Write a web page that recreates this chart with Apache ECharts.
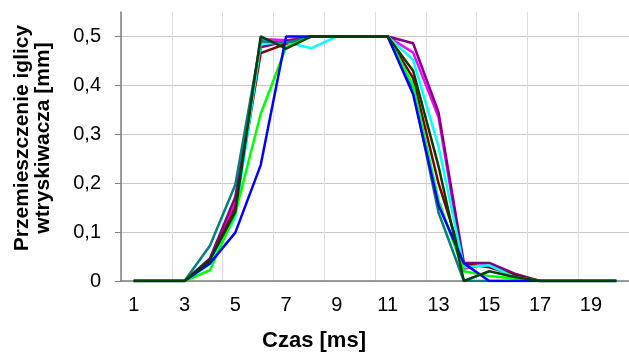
<!DOCTYPE html>
<html>
<head>
<meta charset="utf-8">
<script src="https://cdn.jsdelivr.net/npm/echarts@6/dist/echarts.min.js"></script>
<style>
html, body { margin: 0; padding: 0; background: #fff; }
#chart-container { width: 629px; height: 352px; }
</style>
</head>
<body>
<div id="chart-container"></div>
<script>
var categories = ['1','2','3','4','5','6','7','8','9','10','11','12','13','14','15','16','17','18','19','20'];
var yTicks = [0, 0.1, 0.2, 0.3, 0.4, 0.5];

var seriesMagenta = [0,0,0,0.040,0.160,0.495,0.492,0.5,0.5,0.5,0.5,0.467,0.335,0.025,0.035,0.010,0,0,0,0];
var seriesPurple = [0,0,0,0.046,0.172,0.478,0.490,0.5,0.5,0.5,0.5,0.486,0.345,0.037,0.037,0.015,0,0,0,0];
var seriesDarkRed = [0,0,0,0.040,0.150,0.466,0.485,0.5,0.5,0.5,0.5,0.415,0.200,0.035,0.028,0.012,0,0,0,0];
var seriesCyan = [0,0,0,0.035,0.131,0.485,0.488,0.476,0.5,0.5,0.5,0.452,0.275,0.028,0.032,0.008,0,0,0,0];
var seriesTeal = [0,0,0,0.072,0.197,0.490,0.487,0.5,0.5,0.5,0.5,0.390,0.140,0,0,0,0,0,0,0];
var seriesGreen = [0,0,0,0.022,0.138,0.342,0.478,0.5,0.5,0.5,0.5,0.400,0.165,0.020,0.010,0.005,0,0,0,0];
var seriesBlue = [0,0,0,0.036,0.099,0.237,0.5,0.5,0.5,0.5,0.5,0.382,0.155,0.036,0,0,0,0,0,0];
var seriesDarkGreen = [0,0,0,0.043,0.141,0.5,0.475,0.5,0.5,0.5,0.5,0.430,0.235,0,0.020,0.008,0,0,0,0];

var font = 'Liberation Sans, Arial, sans-serif';

function line(name, data, color) {
	return {
		name: name,
		type: 'line',
		data: data,
		symbol: 'none',
		lineStyle: { color: color, width: 2.5 },
		itemStyle: { color: color }
	};
}

var myChart = echarts.init(document.getElementById('chart-container'));

var option = {
	animation: false,
	backgroundColor: '#fff',
	grid: { left: 121, top: 12, width: 511, height: 269 },
	xAxis: {
		type: 'category',
		data: categories,
		boundaryGap: true,
		axisLine: { lineStyle: { color: '#7f7f7f', width: 1.5 } },
		axisTick: { interval: 1, length: 7, lineStyle: { color: '#7f7f7f' } },
		axisLabel: { interval: 1, margin: 14, color: '#000', fontSize: 20, fontFamily: font },
		splitLine: { show: true, interval: 1, lineStyle: { color: '#dcdcdc', width: 1 } }
	},
	yAxis: {
		type: 'value',
		min: 0,
		max: 0.55,
		interval: 0.1,
		axisLine: { show: true, lineStyle: { color: '#7f7f7f', width: 1.5 } },
		axisTick: { show: true, length: 6, customValues: yTicks, lineStyle: { color: '#7f7f7f' } },
		axisLabel: {
			margin: 20,
			color: '#000',
			fontSize: 20,
			fontFamily: font,
			customValues: yTicks,
			formatter: function (v) {
				if (v > 0.5001) return '';
				return (Math.round(v * 10) / 10).toString().replace('.', ',');
			}
		},
		splitLine: {
			show: true,
			lineStyle: { color: ['#c8c8c8','#c8c8c8','#c8c8c8','#c8c8c8','#c8c8c8','#c8c8c8','rgba(0,0,0,0)'] }
		}
	},
	graphic: [
		{
			type: 'text',
			x: 314,
			y: 341,
			style: {
				text: 'Czas [ms]',
				font: 'bold 22px ' + font,
				fill: '#000',
				align: 'center',
				verticalAlign: 'middle'
			}
		},
		{
			type: 'text',
			x: 33,
			y: 138,
			rotation: Math.PI / 2,
			style: {
				text: 'Przemieszczenie iglicy\nwtryskiwacza [mm]',
				font: 'bold 21px ' + font,
				fill: '#000',
				align: 'center',
				verticalAlign: 'middle',
				lineHeight: 21
			}
		}
	],
	series: [
		line('s1', seriesMagenta, '#ff00ff'),
		line('s2', seriesPurple, '#800080'),
		line('s3', seriesDarkRed, '#800000'),
		line('s4', seriesCyan, '#00ffff'),
		line('s5', seriesTeal, '#008080'),
		line('s6', seriesGreen, '#00ff00'),
		line('s7', seriesBlue, '#0000ff'),
		line('s8', seriesDarkGreen, '#004000')
	]
};

myChart.setOption(option);
</script>
</body>
</html>
